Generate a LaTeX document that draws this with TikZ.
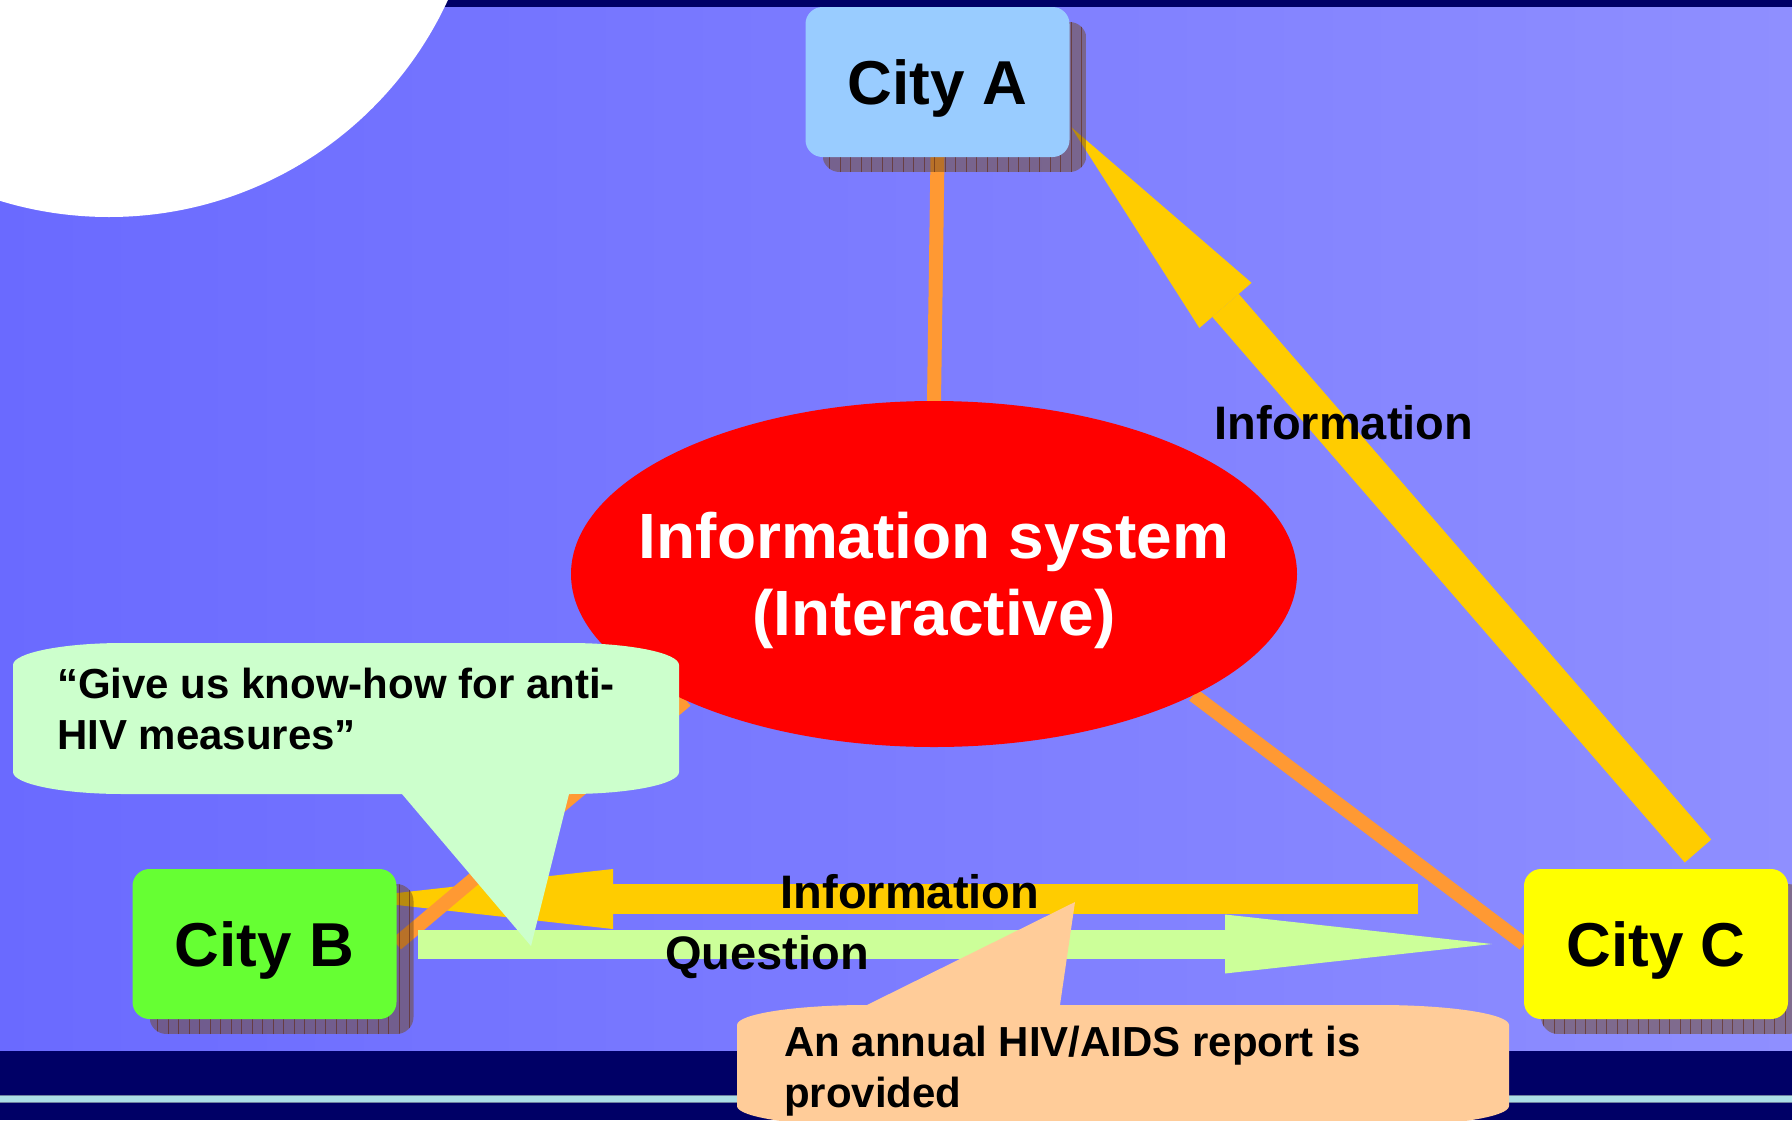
\documentclass[tikz,border=0pt]{standalone}
\usepackage{fontspec}
\setmainfont{Liberation Sans}
\usetikzlibrary{arrows.meta,shapes.geometric}
\definecolor{bgL}{RGB}{106,106,255}
\definecolor{bgR}{RGB}{143,143,255}
\definecolor{navy}{RGB}{0,0,102}
\definecolor{cyanline}{RGB}{172,222,230}
\definecolor{cyanedge}{RGB}{110,130,160}
\definecolor{cityAc}{RGB}{153,204,255}
\definecolor{cityBc}{RGB}{102,255,51}
\definecolor{cityCc}{RGB}{255,255,0}
\definecolor{orangec}{RGB}{255,153,51}
\definecolor{goldc}{RGB}{255,204,0}
\definecolor{qgreen}{RGB}{204,255,153}
\definecolor{mint}{RGB}{204,255,204}
\definecolor{peach}{RGB}{255,204,153}
\definecolor{shadowc}{RGB}{115,75,31}
\definecolor{gridc}{RGB}{95,40,20}
\pgfdeclarelayer{bgl}
\pgfdeclarelayer{lines}
\pgfdeclarelayer{shad}
\pgfdeclarelayer{front}
\pgfsetlayers{bgl,lines,shad,main,front}
\begin{document}
\begin{tikzpicture}[x=1pt,y=-1pt,
  citybox/.style={rounded corners=17pt,minimum width=264pt,minimum height=150pt,
    inner sep=0pt,outer sep=0pt,text height=44.6pt,text depth=0pt,
    font=\fontsize{62}{74}\selectfont\bfseries},
  lbl/.style={inner sep=0pt,text height=33.8pt,text depth=0pt,
    font=\fontsize{47}{56}\selectfont\bfseries},
  calltext/.style={inner sep=0pt,anchor=south west,align=left,text depth=0pt,
    font=\fontsize{42}{51}\selectfont\bfseries},
  orangeline/.style={draw=orangec,line width=14pt},
  bigarrow/.style n args={4}{draw=#1,fill=#1,line width=#2,
    -{Triangle[length=#3,width=#4,line width=0pt]}},
  shadowbox/.style={fill=shadowc,fill opacity=0.5},
]
\useasboundingbox (0,0) rectangle (1792,1120);

% ---------- background ----------
\begin{pgfonlayer}{bgl}
  \fill[navy] (0,0) rectangle (1792,1120);
  \shade[left color=bgL,right color=bgR] (0,7) rectangle (1792,1050);
  \fill[cyanline] (0,1095) rectangle (1792,1102);
  \draw[cyanedge,line width=0.8pt] (0,1095) -- (1792,1095) (0,1102) -- (1792,1102);
  \begin{scope}
    \clip (0,0) rectangle (1792,1120);
    \fill[white] (109,-156) circle[radius=373];
  \end{scope}
\end{pgfonlayer}

% ---------- nodes ----------
\node[citybox,fill=cityAc] (A) at (937.5,82) {City A};
\node[citybox,fill=cityBc] (B) at (264.5,944) {City B};
\node[citybox,fill=cityCc] (C) at (1656,944) {City C};
\node[ellipse,fill=red,minimum width=726pt,minimum height=346pt,
      inner xsep=-60pt,inner ysep=0pt,outer sep=0pt,text=white,align=center,
      text depth=0pt,font=\fontsize{64}{77}\selectfont\bfseries]
      (IS) at (934,574) {Information system\\(Interactive)};

\coordinate (cTail) at (1698,851);
\coordinate (aTip) at (1071,127);
\coordinate (infoTail) at (1418,899);
\coordinate (infoTip) at (343,899);
\coordinate (qTail) at (418,944);
\coordinate (qTip) at (1492,944);

% ---------- connectors ----------
\begin{pgfonlayer}{lines}
  \draw[bigarrow={goldc}{30pt}{270pt}{60pt}] (infoTail) -- (infoTip);
  \draw[orangeline] (A.south) -- (IS.north);
  \draw[orangeline] (B.east) -- (IS.207);
  \draw[orangeline] (C.west) -- (IS.335);
  \draw[bigarrow={qgreen}{29pt}{267pt}{59pt}] (qTail) -- (qTip);
  \draw[bigarrow={goldc}{35pt}{236pt}{69pt}] (cTail) -- (aTip);
\end{pgfonlayer}

% ---------- shadows ----------
\begin{pgfonlayer}{shad}
  \foreach \n in {A,B,C}{
    \begin{scope}
      \clip[rounded corners=17pt] ([shift={(17,15)}]\n.north west) rectangle ([shift={(17,15)}]\n.south east);
      \fill[shadowbox] ([shift={(17,15)}]\n.north west) rectangle ([shift={(17,15)}]\n.south east);
      \draw[gridc,line width=1pt,opacity=0.6,step=10.5] ([shift={(17,15)}]\n.north west) grid ([shift={(17,15)}]\n.south east);
    \end{scope}
  }
\end{pgfonlayer}

% ---------- labels and callouts ----------
\begin{pgfonlayer}{front}
  \node[lbl] (infoR) at (1344,423) {Information};
  \node[lbl] (infoM) at (910,892) {Information};
  \node[lbl] (quest) at (767,953) {Question};

  \fill[mint] (13,665) .. controls (13,653) and (62,643) .. (123,643)
    -- (569,643) .. controls (630,643) and (679,653) .. (679,665)
    -- (679,772) .. controls (679,784) and (630,794) .. (569,794)
    -- (531,946) -- (402,794) -- (123,794)
    .. controls (62,794) and (13,784) .. (13,772) -- cycle;
  \node[calltext] (gtext) at (57,750) {“Give us know-how for anti-\\HIV measures”};

  \begin{scope}
    \clip (0,0) rectangle (1792,1120);
    \fill[peach] (737,1025) .. controls (737,1014) and (795,1005) .. (867,1005)
      -- (1075,902) -- (1060,1005) -- (1379,1005)
      .. controls (1451,1005) and (1509,1014) .. (1509,1025)
      -- (1509,1106) .. controls (1509,1117) and (1451,1126) .. (1379,1126)
      -- (867,1126) .. controls (795,1126) and (737,1117) .. (737,1106) -- cycle;
  \end{scope}
  \node[calltext] (ptext) at (784,1108) {An annual HIV/AIDS report is\\provided};
\end{pgfonlayer}
\end{tikzpicture}
\end{document}
